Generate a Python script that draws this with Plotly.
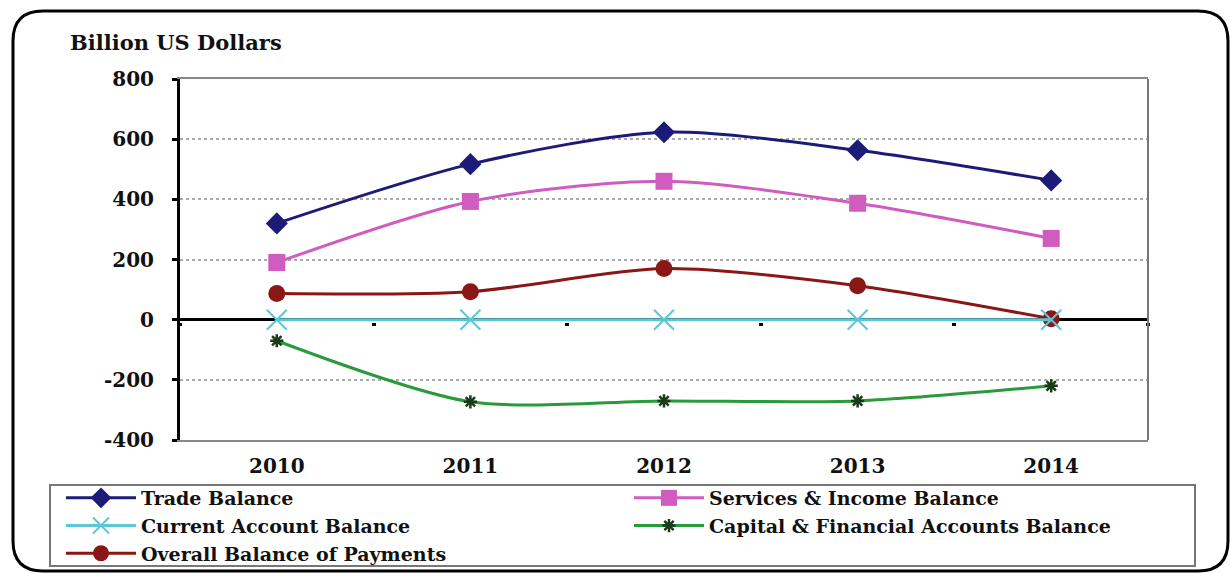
import plotly.graph_objects as go

years = ["2010", "2011", "2012", "2013", "2014"]
trade_balance = [320, 517, 623, 563, 463]
services_income = [190, 393, 460, 387, 270]
current_account = [0, 0, 0, 0, 0]
capital_financial = [-70, -273, -270, -270, -220]
overall_bop = [87, 93, 170, 113, 3]
y_ticks = [-400, -200, 0, 200, 400, 600, 800]
y_tick_labels = ["-400", "-200", "0", "200", "400", "600", "800"]

SERIF = "DejaVu Serif"

fig = go.Figure()

def add(name, y, color, symbol, msize, mcolor=None, xaxis="x", mline=None):
    marker = dict(symbol=symbol, size=msize, color=mcolor or color)
    if mline:
        marker["line"] = mline
    fig.add_trace(go.Scatter(
        x=years, y=y, name=name, mode="lines+markers",
        line=dict(color=color, width=3, shape="spline", smoothing=0.8),
        marker=marker, xaxis=xaxis,
    ))

add("Trade Balance", trade_balance, "#1c1c78", "diamond", 17)
add("Services & Income Balance", services_income, "#d05cc0", "square", 17)
add("Current Account Balance", current_account, "#5cc8d6", "x-thin-open", 20,
    xaxis="x2", mline=dict(color="#5cc8d6", width=2))
add("Capital & Financial Accounts Balance", capital_financial, "#2a9a3c",
    "asterisk-open", 11, mcolor="#1a3a1a", mline=dict(color="#1a3a1a", width=2.5))
add("Overall Balance of Payments", overall_bop, "#8b1616", "circle", 17)

W, H = 1230, 573
L, R, T, B = 180, 1148, 79, 440
pw, ph = R - L, B - T

def px_x(p):
    return (p - L) / pw

def px_y(p):
    return (B - p) / ph

# rounded outer frame
x0, x1 = px_x(13), px_x(1228)
y0, y1 = px_y(571), px_y(11)
rx, ry = 30 / pw, 30 / ph
frame = (f"M {x0+rx},{y1} L {x1-rx},{y1} Q {x1},{y1} {x1},{y1-ry} "
         f"L {x1},{y0+ry} Q {x1},{y0} {x1-rx},{y0} L {x0+rx},{y0} "
         f"Q {x0},{y0} {x0},{y0+ry} L {x0},{y1-ry} Q {x0},{y1} {x0+rx},{y1} Z")

fig.update_layout(
    width=W, height=H,
    margin=dict(l=L, r=W - R, t=T, b=H - B, autoexpand=False),
    paper_bgcolor="white", plot_bgcolor="white",
    font=dict(family=SERIF, color="#111"),
    showlegend=True,
    legend=dict(
        orientation="h", x=px_x(61), xanchor="left", y=px_y(479), yanchor="top",
        entrywidth=483, entrywidthmode="pixels", itemwidth=70,
        font=dict(family=SERIF, size=19, color="#111", weight="bold"),
        borderwidth=0, bgcolor="rgba(0,0,0,0)",
        tracegroupgap=0,
    ),
    xaxis=dict(
        type="category", categoryorder="array", categoryarray=years,
        range=[-0.5, 4.5], showgrid=False, zeroline=False,
        showline=True, linecolor="#888", linewidth=2, mirror=True,
        ticks="", ticklabelstandoff=7,
        tickfont=dict(family=SERIF, size=20, color="#111", weight="bold"),
    ),
    xaxis2=dict(
        type="category", categoryorder="array", categoryarray=years,
        range=[-0.5, 4.5], overlaying="x", anchor="free", position=px_y(322),
        showticklabels=False, showgrid=False, zeroline=False, showline=False,
        ticks="outside", tickson="boundaries", ticklen=3, tickwidth=4, tickcolor="black",
    ),
    yaxis=dict(
        range=[-400, 800], tickvals=y_ticks, ticktext=y_tick_labels,
        showgrid=True, gridcolor="#aaa", gridwidth=2, griddash="dot",
        zeroline=True, zerolinecolor="black", zerolinewidth=3,
        showline=True, linecolor="black", linewidth=3,
        ticks="outside", ticklen=5, tickwidth=3, tickcolor="black",
        ticklabelstandoff=14,
        tickfont=dict(family=SERIF, size=20, color="#111", weight="bold"),
    ),
    shapes=[
        dict(type="line", xref="paper", yref="paper", x0=1, x1=1, y0=0, y1=1,
             line=dict(color="#777", width=2)),
        dict(type="rect", xref="paper", yref="paper",
             x0=px_x(50), x1=px_x(1195), y0=px_y(566), y1=px_y(485),
             line=dict(color="#777", width=2), layer="below"),
        dict(type="path", xref="paper", yref="paper", path=frame,
             line=dict(color="black", width=3)),
    ],
    annotations=[
        dict(text="Billion US Dollars", xref="paper", yref="paper",
             x=px_x(68), y=px_y(42), xanchor="left", yanchor="middle",
             showarrow=False,
             font=dict(family=SERIF, size=21, color="#111", weight="bold")),
    ],
)

fig.write_html(
    "out.html",
    config={"displayModeBar": False},
    post_script="document.body.style.margin='0';document.body.style.overflow='hidden';",
)
